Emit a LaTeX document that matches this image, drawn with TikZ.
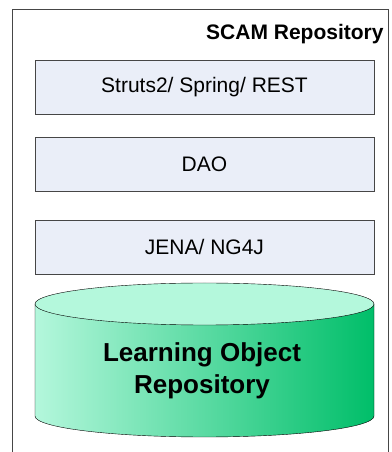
\documentclass[tikz,border=0pt]{standalone}
\usepackage{fontspec}
\setmainfont{Liberation Sans}
\definecolor{layerfill}{RGB}{234,238,248}
\definecolor{layerdraw}{RGB}{70,70,70}
\definecolor{dblight}{RGB}{180,247,220}
\definecolor{dbdark}{RGB}{0,190,105}
\definecolor{dbtop}{RGB}{180,248,220}

\begin{document}
\begin{tikzpicture}[
    x=1pt, y=1pt,
    layer/.style={rectangle, draw=layerdraw, fill=layerfill, minimum width=339pt, minimum height=54pt, inner sep=0pt, font=\fontsize{21}{25}\selectfont},
    title/.style={font=\bfseries\fontsize{21}{25}\selectfont, anchor=base west, inner sep=0pt},
    dbtext/.style={font=\bfseries\fontsize{26}{32}\selectfont, align=center}
]
\useasboundingbox (0,0) rectangle (391,452);

% Outer frame (runs off the page)
\draw[layerdraw] (12,-10) -- (12,443) -- (388,443) -- (388,-10);
\node[title] (repo) at (206,412) {SCAM Repository};

% Layers
\node[layer] (web) at (204.5,364.5) {Struts2/ Spring/ REST};
\node[layer] (dao) at (204.5,288) {DAO};
\node[layer] (jena) at (204.5,205) {JENA/ NG4J};

% Learning object store (cylinder)
\shade[left color=dblight, right color=dbdark]
    (35,148) -- (35,36) arc[start angle=180, end angle=360, x radius=169.5pt, y radius=21pt]
    -- (374,148) -- cycle;
\draw (35,148) -- (35,36) arc[start angle=180, end angle=360, x radius=169.5pt, y radius=21pt] -- (374,148);
\filldraw[fill=dbtop] (204.5,148) ellipse[x radius=169.5pt, y radius=21pt];
\node[dbtext] (lor) at (202,81) {Learning Object\\Repository};

\end{tikzpicture}
\end{document}
